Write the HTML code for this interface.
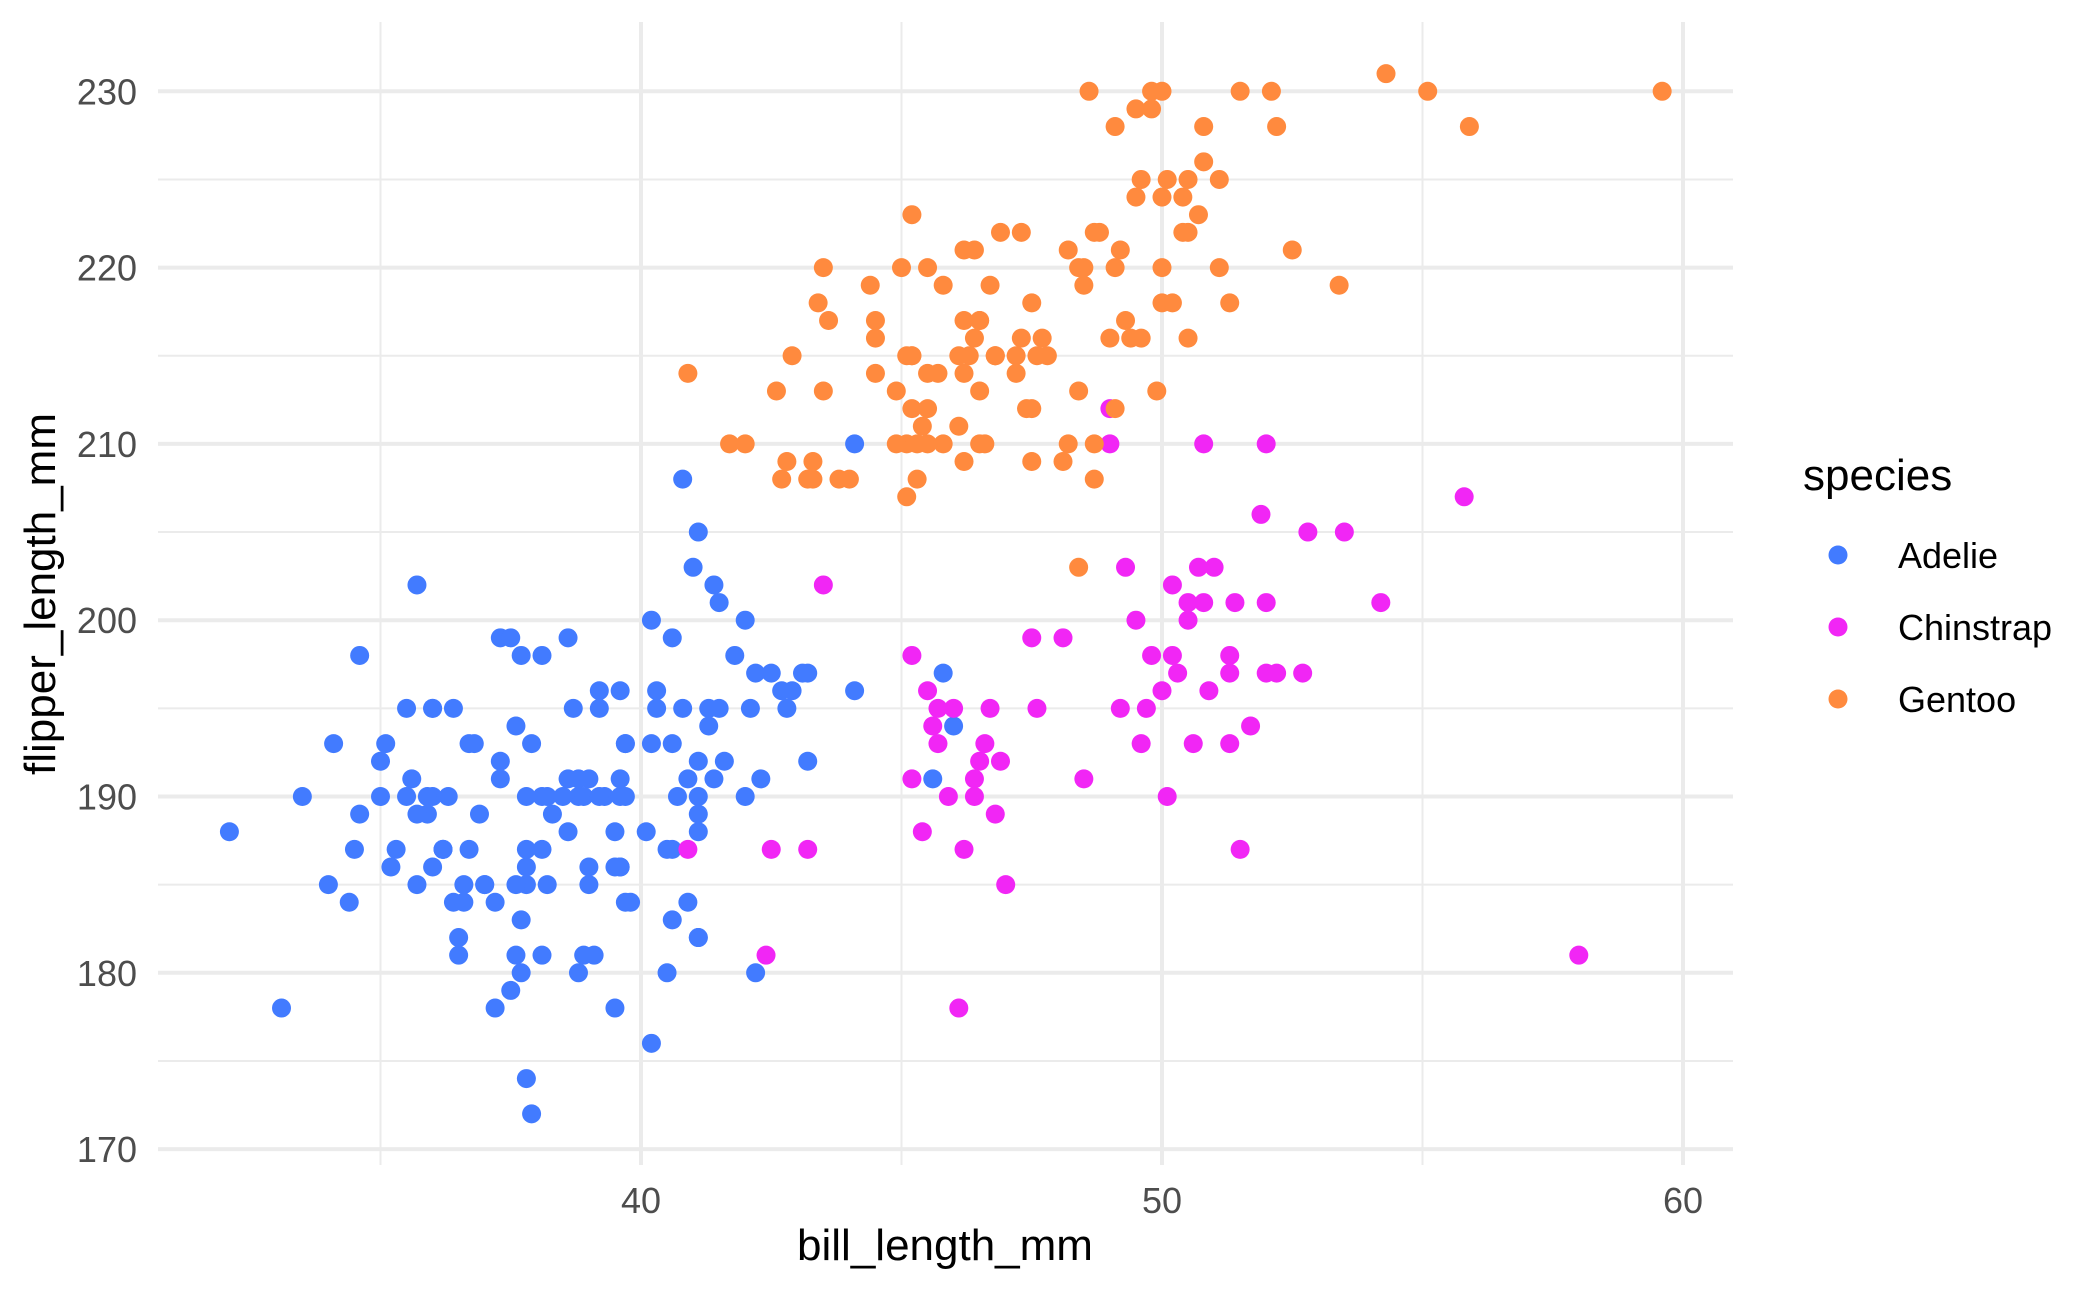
<!DOCTYPE html>
<html><head><meta charset="utf-8"><style>
html,body{margin:0;padding:0;background:#fff;}
svg{display:block;font-family:"Liberation Sans",Arial,sans-serif;}
</style></head><body>
<svg id="s" width="2100" height="1297" viewBox="0 0 2100 1297" xmlns="http://www.w3.org/2000/svg">
<rect width="2100" height="1297" fill="#fff"/>
<g id="grid"></g>
<g id="pts"></g>
<g id="lab" fill="#4d4d4d" font-size="36"></g>
<text x="945" y="1260" font-size="44" text-anchor="middle" fill="#000">bill_length_mm</text>
<text transform="translate(55,594) rotate(-90)" font-size="44" text-anchor="middle" fill="#000">flipper_length_mm</text>
<text x="1803" y="490" font-size="44" fill="#000">species</text>
<circle cx="1838" cy="555" r="9.5" fill="#427bff"/>
<circle cx="1838" cy="627" r="9.5" fill="#f126f5"/>
<circle cx="1838" cy="699" r="9.5" fill="#ff8a3e"/>
<text x="1898" y="568" font-size="36" fill="#000">Adelie</text>
<text x="1898" y="640" font-size="36" fill="#000">Chinstrap</text>
<text x="1898" y="712" font-size="36" fill="#000">Gentoo</text>
</svg>
<script>
var NS="http://www.w3.org/2000/svg";
function px(x){return 641+(x-40)*52.1;}
function py(y){return 91.3+(230-y)*17.63;}
function el(p,t,a){var e=document.createElementNS(NS,t);for(var k in a)e.setAttribute(k,a[k]);p.appendChild(e);return e;}
var g=document.getElementById('grid'),L=document.getElementById('lab');
for(var y=175;y<=225;y+=10)el(g,'line',{x1:158,x2:1733,y1:py(y),y2:py(y),stroke:'#ebebeb','stroke-width':2});
for(var x=35;x<=55;x+=10)el(g,'line',{x1:px(x),x2:px(x),y1:22,y2:1165,stroke:'#ebebeb','stroke-width':2});
for(var y=170;y<=230;y+=10){el(g,'line',{x1:158,x2:1733,y1:py(y),y2:py(y),stroke:'#ebebeb','stroke-width':4});
 var t=el(L,'text',{x:137,y:py(y)+13,'text-anchor':'end'});t.textContent=y;}
for(var x=40;x<=60;x+=10){el(g,'line',{x1:px(x),x2:px(x),y1:22,y2:1165,stroke:'#ebebeb','stroke-width':4});
 var t=el(L,'text',{x:px(x),y:1213,'text-anchor':'middle'});t.textContent=x;}
var A=[39.1,181,39.5,186,40.3,195,36.7,193,39.3,190,38.9,181,39.2,195,34.1,193,42,190,37.8,186,37.8,185,41.1,182,38.6,191,34.6,198,36.6,185,38.7,195,42.5,197,34.4,184,46,194,37.8,174,37.7,180,35.9,189,38.2,185,38.8,180,35.3,187,40.6,183,40.5,187,37.9,172,40.5,180,39.5,178,37.2,178,39.5,188,40.9,184,36.4,195,39.2,196,38.8,190,42.2,180,37.6,181,39.8,184,36.5,182,40.8,195,36,186,44.1,196,37,185,39.6,190,41.1,182,37.5,179,36,190,42.3,191,39.6,186,40.1,188,35,190,42,200,34.5,187,41.4,191,39,186,40.6,193,36.5,181,37.6,194,35.7,185,41.3,195,37.6,185,41.1,192,36.4,184,41.6,192,35.5,195,41.1,188,35.9,190,41.8,198,33.5,190,39.7,190,39.6,196,45.8,197,35.5,190,42.8,195,40.9,191,37.2,184,36.2,187,42.1,195,34.6,189,42.9,196,36.7,187,35.1,193,37.3,191,41.3,194,36.3,190,36.9,189,38.3,189,38.9,190,35.7,202,41.1,205,34,185,39.6,186,36.2,187,40.8,208,38.1,190,40.3,196,33.1,178,43.2,192,35,192,41,203,37.7,183,37.8,190,37.9,193,39.7,184,38.6,199,38.2,190,38.1,181,43.2,197,38.1,198,45.6,191,39.7,193,42.2,197,39.6,191,42.7,196,38.6,188,37.3,199,35.7,189,41.1,189,36.2,187,37.7,198,40.2,176,41.4,202,35.2,186,40.6,199,38.8,191,41.5,195,39,191,44.1,210,38.5,190,43.1,197,36.8,193,37.5,199,38.1,187,41.1,190,35.6,191,40.2,200,37,185,39.7,193,40.2,193,40.6,187,32.1,188,40.7,190,37.3,192,39,185,39.2,190,36.6,184,36,195,37.8,187,36,195,41.5,201];
var C=[46.5,192,50,196,51.3,193,45.4,188,52.7,197,45.2,198,46.1,178,51.3,197,46,195,51.3,198,46.6,193,51.7,194,47,185,52,201,45.9,190,50.5,201,50.3,197,58,181,46.4,190,49.2,195,42.4,181,48.5,191,43.2,187,50.6,193,46.7,195,52,197,50.5,200,49.5,200,46.4,191,52.8,205,40.9,187,54.2,201,42.5,187,51,203,49.7,195,47.5,199,47.6,195,52,210,46.9,192,53.5,205,49,210,46.2,187,50.9,196,45.5,196,50.8,201,50.1,190,49,212,51.5,187,49.8,198,48.1,199,51.4,201,45.7,193,50.7,203,52.2,197,45.2,191,49.3,203,50.2,202,45.6,194,51.9,206,46.8,189,45.7,195,55.8,207,43.5,202,49.6,193,50.8,210,50.2,198];
var G=[46.1,211,50,230,48.7,210,50,218,47.6,215,46.5,210,45.4,211,46.7,219,43.3,209,46.8,215,40.9,214,49,216,45.5,214,48.4,213,45.8,210,49.3,217,42,210,49.2,221,46.2,209,48.7,222,50.2,218,45.1,215,46.5,213,46.3,215,42.9,215,46.1,215,44.5,216,47.8,215,48.2,210,50,220,47.3,222,42.8,209,45.1,207,59.6,230,49.1,220,48.4,220,42.6,213,44.4,219,44,208,48.7,208,42.7,208,49.6,225,45.3,210,49.6,216,50.5,222,43.6,217,45.5,210,50.5,225,44.9,213,45.2,215,46.6,210,48.5,220,45.1,210,50.1,225,46.5,217,45,220,43.8,208,45.5,220,43.2,208,50.4,224,45.3,208,46.2,221,45.7,214,54.3,231,45.8,219,49.8,230,46.2,214,49.5,229,43.5,220,50.7,223,47.7,216,46.4,221,48.2,221,46.5,217,46.4,216,48.6,230,47.5,209,51.1,220,45.2,215,45.2,223,49.1,212,52.5,221,47.4,212,50,224,44.9,210,50.8,228,43.4,218,51.3,218,47.5,212,52.1,230,47.5,218,52.2,228,45.5,212,49.5,224,44.5,214,50.8,226,49.4,216,46.9,222,48.4,203,51.1,225,48.5,219,55.9,228,47.2,215,49.1,228,47.3,216,46.8,215,41.7,210,53.4,219,43.3,208,48.1,209,50.5,216,49.8,229,43.5,213,51.5,230,46.2,217,55.1,230,44.5,217,48.8,222,47.2,214,46.8,215,50.4,222,45.2,212,49.9,213];
var P=document.getElementById('pts');
[[A,'#427bff'],[C,'#f126f5'],[G,'#ff8a3e']].forEach(function(s){var d=s[0];for(var i=0;i<d.length;i+=2)el(P,'circle',{cx:px(d[i]),cy:py(d[i+1]),r:9.5,fill:s[1]});});
</script>
</body></html>
